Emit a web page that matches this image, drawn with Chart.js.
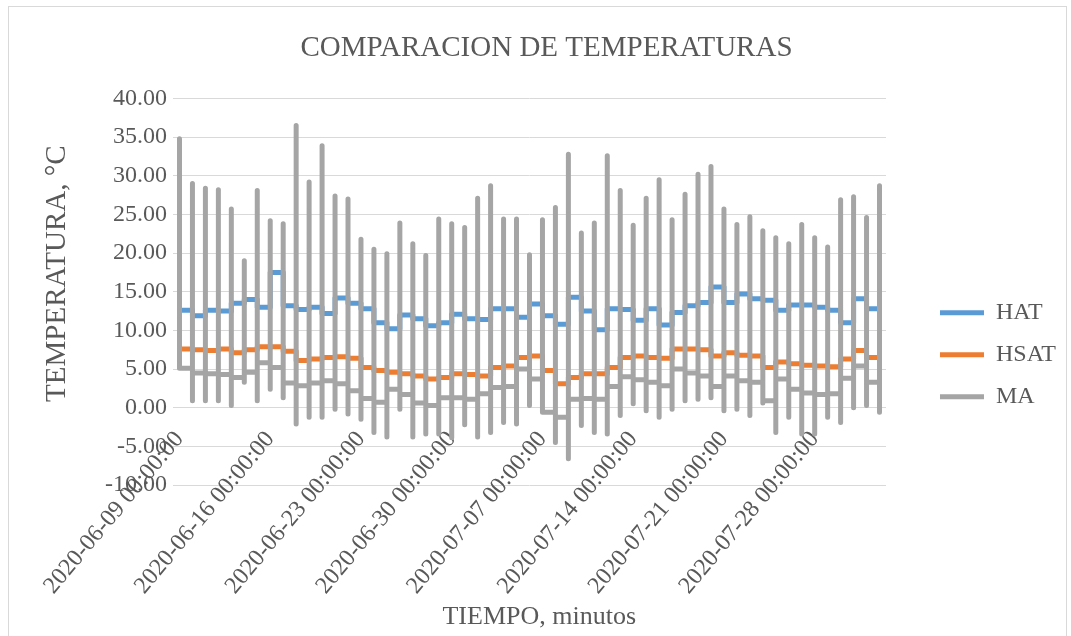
<!DOCTYPE html>
<html>
<head>
<meta charset="utf-8">
<title>Comparacion de temperaturas</title>
<script src="https://cdn.jsdelivr.net/npm/chart.js@4.4.1/dist/chart.umd.min.js"></script>
<style>
  html, body { margin: 0; padding: 0; background: #ffffff; overflow: hidden; }
  #frame { position: absolute; left: 8px; top: 6px; width: 1059px; height: 640px; border: 1px solid #d9d9d9; box-sizing: border-box; }
  #tempChart { position: absolute; left: 0; top: 0; }
</style>
</head>
<body>
<div id="frame"></div>
<canvas id="tempChart" width="1066" height="636"></canvas>
<script>
// Time axis: day index of each labelled tick and the text shown for it
const tickDays = [0, 7, 14, 21, 28, 35, 42, 49];
const tickLabels = [
    '2020-06-09 00:00:00', '2020-06-16 00:00:00', '2020-06-23 00:00:00', '2020-06-30 00:00:00',
    '2020-07-07 00:00:00', '2020-07-14 00:00:00', '2020-07-21 00:00:00', '2020-07-28 00:00:00'
];

// Y axis ticks
const yTicks = [-10, -5, 0, 5, 10, 15, 20, 25, 30, 35, 40];

// MA: highest and lowest reading of each day (one entry per day)
const maHigh = [
    34.8, 29.0, 28.4, 28.2, 25.7, 19.0, 28.1, 24.2, 23.8, 36.5,
    29.2, 33.9, 27.4, 27.0, 21.8, 20.5, 19.9, 23.9, 21.2, 19.7,
    24.4, 23.8, 23.3, 27.1, 28.7, 24.4, 24.4, 19.8, 24.3, 25.9,
    32.8, 22.6, 23.9, 32.6, 28.1, 23.6, 27.1, 29.5, 24.3, 27.6,
    30.2, 31.2, 25.7, 23.7, 24.7, 22.9, 22.0, 21.2, 23.7, 22.0,
    20.8, 26.9, 27.3, 24.6, 28.7
];
const maLow = [
    5.2, 0.9, 0.9, 0.9, 0.3, 3.3, 0.9, 2.4, 1.3, -2.1,
    -1.25, -1.25, -0.2, -0.8, -1.5, -3.2, -3.8, -0.2, -3.8, -3.4,
    -3.4, -3.9, -2.2, -3.8, -3.2, -1.9, -2.1, 0.3, -0.4, -4.5,
    -6.6, -2.3, -3.2, -3.4, -1.0, 0.5, -0.4, -1.25, -0.2, 0.9,
    1.1, 1.3, -0.4, -0.2, -1.0, 0.6, -3.2, -1.25, -3.4, -3.4,
    -1.25, -1.9, 0.0, 0.3, -0.6
];

// Value each series carries over midnight, from one day to the next
const maLink = [
    5.1, 4.5, 4.4, 4.3, 3.9, 4.6, 5.8, 5.2, 3.2, 2.85,
    3.2, 3.5, 3.1, 2.2, 1.2, 0.7, 2.4, 1.7, 0.6, 0.3,
    1.3, 1.3, 1.1, 1.8, 2.6, 2.75, 5.0, 3.7, -0.6, -1.25,
    1.1, 1.2, 1.1, 2.75, 4.0, 3.6, 3.3, 2.85, 5.0, 4.5,
    4.1, 2.75, 4.1, 3.5, 3.3, 0.9, 3.7, 2.4, 1.9, 1.7,
    1.8, 3.8, 5.4, 3.3
];
const hatLink = [
    12.6, 11.9, 12.6, 12.5, 13.5, 14.0, 13.0, 17.5, 13.2, 12.7,
    13.0, 12.2, 14.2, 13.5, 12.8, 11.0, 10.2, 12.0, 11.5, 10.6,
    11.0, 12.1, 11.5, 11.4, 12.8, 12.8, 11.7, 13.4, 11.9, 10.8,
    14.3, 12.5, 10.1, 12.8, 12.7, 11.3, 12.8, 10.7, 12.3, 13.2,
    13.6, 15.6, 13.6, 14.7, 14.1, 13.9, 12.6, 13.3, 13.3, 13.0,
    12.6, 11.0, 14.1, 12.8
];
const hsatLink = [
    7.6, 7.5, 7.4, 7.6, 7.1, 7.5, 7.9, 7.9, 7.3, 6.1,
    6.3, 6.5, 6.6, 6.4, 5.2, 4.8, 4.6, 4.4, 4.1, 3.7,
    3.9, 4.4, 4.3, 4.1, 5.2, 5.4, 6.5, 6.7, 4.8, 3.1,
    3.9, 4.4, 4.4, 5.2, 6.5, 6.7, 6.5, 6.4, 7.6, 7.6,
    7.5, 6.7, 7.1, 6.8, 6.7, 5.2, 5.9, 5.7, 5.5, 5.4,
    5.3, 6.3, 7.4, 6.5
];

const FONT = "'Liberation Serif', 'Times New Roman', serif";
const TEXT_GREY = '#595959';

// Excel puts every reading of a day on the same x position, so each day is a vertical run
function buildDayPoints(links, highs, lows) {
    const points = [];
    const days = links.length + 1;
    for (let d = 0; d < days; d++) {
        if (d > 0) points.push({ x: d, y: links[d - 1] });
        if (highs) {
            points.push({ x: d, y: highs[d] });
            points.push({ x: d, y: lows[d] });
        }
        if (d < links.length) points.push({ x: d, y: links[d] });
    }
    return points;
}

function lineSet(label, color, points, order) {
    return {
        label: label,
        data: points,
        borderColor: color,
        backgroundColor: color,
        borderWidth: 5,
        borderCapStyle: 'round',
        borderJoinStyle: 'round',
        pointRadius: 0,
        pointHoverRadius: 0,
        tension: 0,
        fill: false,
        order: order
    };
}

Chart.defaults.font.family = FONT;
Chart.defaults.color = TEXT_GREY;

const nbsp = '\u00a0';

new Chart(document.getElementById('tempChart').getContext('2d'), {
    type: 'line',
    data: {
        datasets: [
            lineSet('HAT', '#5b9bd5', buildDayPoints(hatLink), 3),
            lineSet('HSAT', '#ed7d31', buildDayPoints(hsatLink), 2),
            lineSet('MA', '#a5a5a5', buildDayPoints(maLink, maHigh, maLow), 1)
        ]
    },
    options: {
        responsive: false,
        animation: false,
        devicePixelRatio: 1,
        events: [],
        layout: { padding: { left: 27, right: 0, top: 0, bottom: 151 } },
        scales: {
            x: {
                type: 'linear',
                position: { y: 0 },   // labels hang from the 0.00 line, as in Excel
                min: -0.5,
                max: maHigh.length - 0.5,
                grid: { display: false, drawTicks: false },
                border: { display: false },
                afterBuildTicks: (scale) => {
                    scale.ticks = tickDays.map(v => ({ value: v }));
                },
                ticks: {
                    autoSkip: false,
                    minRotation: 50,
                    maxRotation: 50,
                    padding: 18,
                    font: { size: 24 },
                    callback: (value, index) => tickLabels[index]
                },
                title: {
                    display: true,
                    text: nbsp.repeat(3) + 'TIEMPO, minutos',
                    font: { size: 26 },
                    padding: { top: -16.6, bottom: 0 }
                }
            },
            y: {
                position: 'left',
                min: -10,
                max: 40,
                afterBuildTicks: (scale) => {
                    scale.ticks = yTicks.map(v => ({ value: v }));
                },
                afterFit: (scale) => { scale.width = 146; },
                grid: { color: '#d9d9d9', lineWidth: 1, drawTicks: false },
                border: { display: false },
                ticks: {
                    padding: 6,
                    font: { size: 24 },
                    callback: (value) => value.toFixed(2)
                },
                title: {
                    display: true,
                    text: nbsp.repeat(5) + 'TEMPERATURA, \u00b0C',
                    font: { size: 29 },
                    padding: { top: 13.1, bottom: 0 }
                }
            },
            // empty spacer between the plot and the legend
            spacer: {
                type: 'linear',
                position: 'right',
                grid: { display: false, drawTicks: false },
                border: { display: false },
                ticks: { display: false },
                afterFit: (scale) => { scale.width = 36; }
            }
        },
        plugins: {
            title: {
                display: true,
                text: 'COMPARACION DE TEMPERATURAS',
                color: TEXT_GREY,
                font: { size: 29, weight: 'normal' },
                padding: { top: 30.6, bottom: 33.1 }
            },
            legend: {
                position: 'right',
                align: 'start',
                // empty title only pushes the entries down to the middle of the chart
                title: { display: true, text: '', font: { size: 24 }, padding: { top: 253.9, bottom: 0 } },
                labels: {
                    usePointStyle: true,
                    pointStyle: 'line',
                    pointStyleWidth: 44,
                    padding: 18,
                    color: TEXT_GREY,
                    font: { size: 24 },
                    sort: (a, b) => a.datasetIndex - b.datasetIndex
                }
            },
            tooltip: { enabled: false }
        }
    }
});
</script>
</body>
</html>
